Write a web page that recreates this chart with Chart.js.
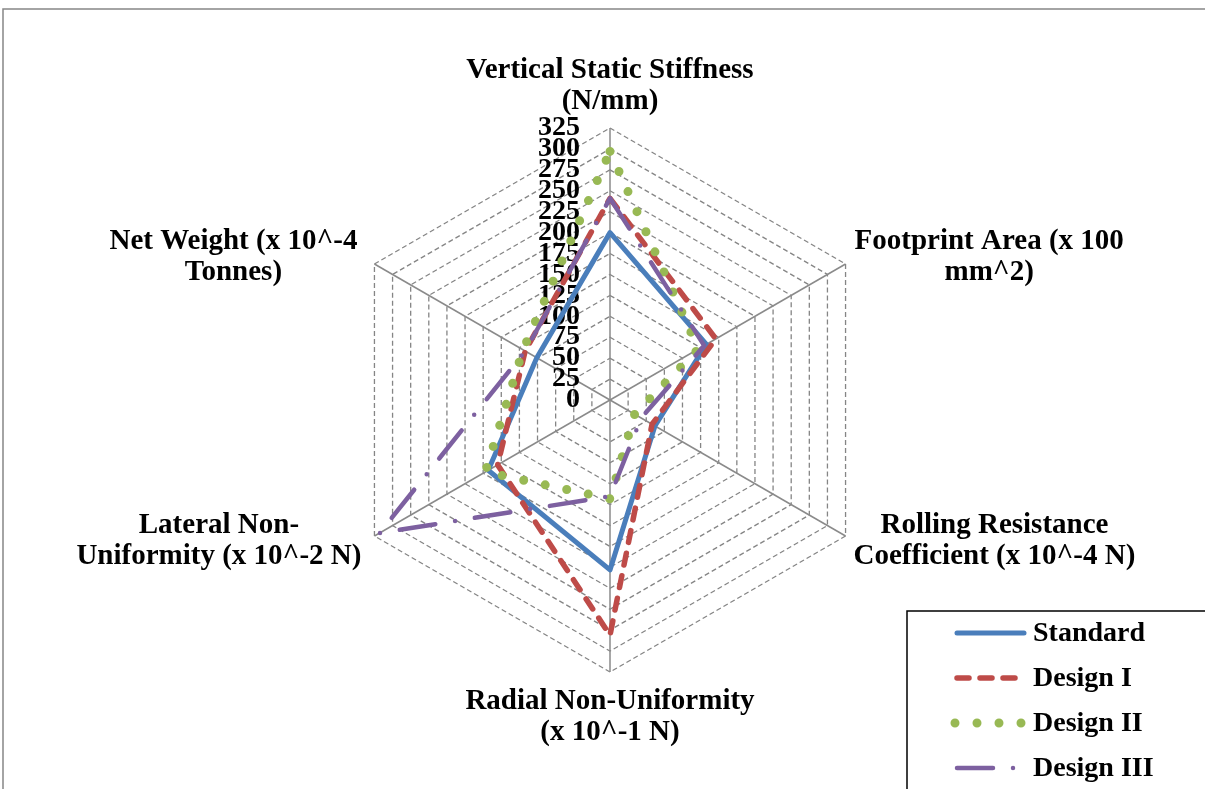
<!DOCTYPE html>
<html>
<head>
<meta charset="utf-8">
<script src="https://cdn.jsdelivr.net/npm/chart.js@4"></script>
<style>
  html, body { margin: 0; padding: 0; background: #fff; }
  #wrap { position: relative; width: 1205px; height: 789px; overflow: hidden; }
</style>
</head>
<body>
<div id="wrap"><canvas id="radarChart" width="1205" height="789"></canvas></div>
<script>
// axis names, split the way the original wraps them
const categories = [
  ['Vertical Static Stiffness', '(N/mm)'],
  ['Footprint Area (x 100', 'mm^2)'],
  ['Rolling Resistance', 'Coefficient (x 10^-4 N)'],
  ['Radial Non-Uniformity', '(x 10^-1 N)'],
  ['Lateral Non-', 'Uniformity (x 10^-2 N)'],
  ['Net Weight (x 10^-4', 'Tonnes)']
];
const seriesNames = ['Standard', 'Design I', 'Design II', 'Design III'];
const standardValues = [200, 133, 62, 203, 168, 101];
const design1Values = [241, 146, 58, 281, 155, 117];
const design2Values = [297, 122, 34, 118, 172, 120];
const design3Values = [241, 130, 43, 115, 318, 117];
const tickValues = [0, 25, 50, 75, 100, 125, 150, 175, 200, 225, 250, 275, 300, 325];

const FONT = 'bold 28px "Liberation Serif", "Times New Roman", serif';
const LABEL_FONT = 'bold 29px "Liberation Serif", "Times New Roman", serif';

// where each axis title sits relative to its outer vertex
const labelPlacement = [
  { align: 'center', dx: 0, dy: -50 },
  { align: 'left', dx: 9, dy: -15 },
  { align: 'left', dx: 8, dy: -3 },
  { align: 'center', dx: 0, dy: 37 },
  { align: 'right', dx: -13, dy: -3 },
  { align: 'right', dx: -17, dy: -15 }
];

const decorPlugin = {
  id: 'decor',
  beforeDraw(chart) {
    const ctx = chart.ctx;
    ctx.save();
    ctx.fillStyle = '#fff';
    ctx.fillRect(0, 0, chart.width, chart.height);
    // outer frame of the original chart (top and left edges visible)
    ctx.strokeStyle = '#878787';
    ctx.lineWidth = 1.5;
    ctx.beginPath();
    ctx.moveTo(3, chart.height);
    ctx.lineTo(3, 9);
    ctx.lineTo(chart.width, 9);
    ctx.stroke();
    ctx.restore();
  },
  beforeDatasetsDraw(chart) {
    const ctx = chart.ctx;
    const scale = chart.scales.r;
    ctx.save();
    ctx.fillStyle = '#000';

    // tick labels, right aligned left of the vertical axis
    ctx.font = FONT;
    ctx.textAlign = 'right';
    ctx.textBaseline = 'middle';
    tickValues.forEach(v => {
      const p = scale.getPointPositionForValue(0, v);
      ctx.fillText(String(v), p.x - 30, p.y);
    });

    // axis titles
    ctx.font = LABEL_FONT;
    ctx.textBaseline = 'alphabetic';
    ctx.textAlign = 'center';
    categories.forEach((lines, i) => {
      const p = scale.getPointPosition(i, scale.drawingArea);
      const pl = labelPlacement[i];
      const w = Math.max(...lines.map(l => ctx.measureText(l).width));
      let cx = p.x + pl.dx;
      if (pl.align === 'left') cx += w / 2;
      if (pl.align === 'right') cx -= w / 2;
      lines.forEach((line, k) => {
        ctx.fillText(line, cx, p.y + pl.dy + k * 31);
      });
    });
    ctx.restore();
  },
  afterDraw(chart) {
    const ctx = chart.ctx;
    ctx.save();
    // legend box, clipped by the page edge like the original
    ctx.fillStyle = '#fff';
    ctx.fillRect(907, 611, 400, 300);
    ctx.strokeStyle = '#000';
    ctx.lineWidth = 1.5;
    ctx.strokeRect(907, 611, 400, 300);

    chart.data.datasets.forEach((ds, i) => {
      const y = 633 + 45 * i;
      ctx.strokeStyle = ds.borderColor;
      ctx.lineWidth = ds.borderWidth;
      ctx.lineCap = 'round';
      ctx.setLineDash(ds.borderDash || []);
      ctx.beginPath();
      if (ds.borderDash && ds.borderDash[0] === 0) {
        ctx.moveTo(955, y);
        ctx.lineTo(1023, y);
      } else {
        ctx.moveTo(957, y);
        ctx.lineTo(1024, y);
      }
      ctx.stroke();
      ctx.setLineDash([]);
      ctx.fillStyle = '#000';
      ctx.font = FONT;
      ctx.textAlign = 'left';
      ctx.textBaseline = 'middle';
      ctx.fillText(ds.label, 1033, y + 1);
    });
    ctx.restore();
  }
};

const ctx = document.getElementById('radarChart').getContext('2d');
const radarChart = new Chart(ctx, {
  type: 'radar',
  data: {
    labels: categories,
    datasets: [
      {
        label: seriesNames[0],
        data: standardValues,
        borderColor: '#4A7EBB',
        borderWidth: 5,
        borderDash: [],
        order: 4
      },
      {
        label: seriesNames[1],
        data: design1Values,
        borderColor: '#BE4B48',
        borderWidth: 5.5,
        borderDash: [12, 11],
        order: 3
      },
      {
        label: seriesNames[2],
        data: design2Values,
        borderColor: '#98B954',
        borderWidth: 9,
        borderDash: [0, 22],
        order: 2
      },
      {
        label: seriesNames[3],
        data: design3Values,
        borderColor: '#7D60A0',
        borderWidth: 4.5,
        borderDash: [36, 20, 0, 20],
        order: 1
      }
    ]
  },
  options: {
    responsive: false,
    animation: false,
    devicePixelRatio: 1,
    layout: { padding: { left: 338, right: 323, top: 128, bottom: 117 } },
    elements: {
      line: { fill: false, tension: 0, borderCapStyle: 'round', borderJoinStyle: 'round' },
      point: { radius: 0, hoverRadius: 0 }
    },
    plugins: {
      legend: { display: false },
      tooltip: { enabled: false }
    },
    scales: {
      r: {
        min: 0,
        max: 325,
        ticks: { display: false, stepSize: 25 },
        pointLabels: { display: false },
        grid: { color: '#858585', lineWidth: 1.3 },
        border: { dash: [5, 3] },
        angleLines: { color: '#8a8a8a', lineWidth: 1.5 }
      }
    }
  },
  plugins: [decorPlugin]
});
</script>
</body>
</html>
